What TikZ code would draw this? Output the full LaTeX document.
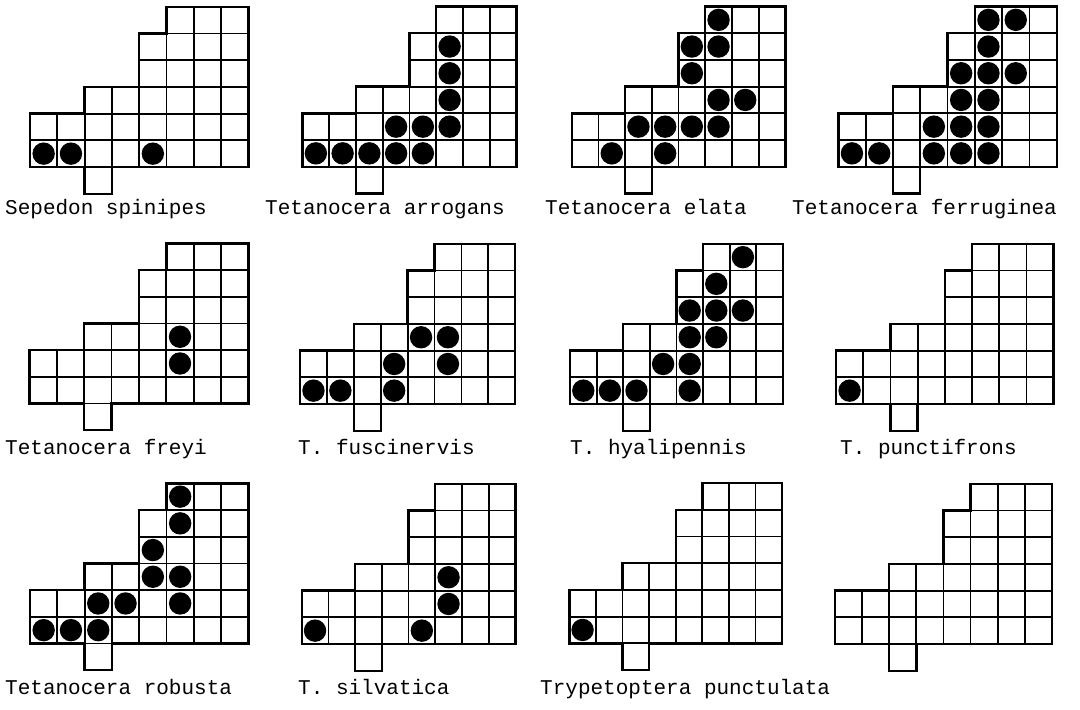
\documentclass[tikz,border=0pt]{standalone}
\usepackage{fontspec}
\setmonofont{Liberation Mono}
\tikzset{
  cellline/.style={draw=black, line width=1.8pt},
  outline/.style={draw=black, line width=2.4pt, line join=miter},
  lab/.style={font=\ttfamily\fontsize{21}{21}\selectfont, anchor=base west, inner sep=0pt},
}
\newcommand\gdots[1]{\foreach \c/\r in {#1} {\fill[black] (\c+0.5,\r+0.5) circle[radius=11.2pt];}}
\newcommand\gridpanel[4]{%
  \begin{scope}[shift={(#1,#2)}, x=#3pt, y=26.7pt]
    \draw[cellline] (0,1) -- (8,1) (2,2) -- (8,2) (4,3) -- (8,3) (4,4) -- (8,4) (5,5) -- (8,5) (2,0) -- (3,0)
      (1,0) -- (1,2) (2,0) -- (2,2) (3,0) -- (3,3) (4,0) -- (4,3) (5,0) -- (5,5) (6,0) -- (6,6) (7,0) -- (7,6);
    \draw[outline] (0,0) -- (2,0) -- (2,-1) -- (3,-1) -- (3,0) -- (8,0) -- (8,6) -- (5,6) -- (5,5) -- (4,5) -- (4,3) -- (2,3) -- (2,2) -- (0,2) -- cycle;
    #4
  \end{scope}}
\begin{document}
\begin{tikzpicture}[x=1pt, y=-1pt]
\useasboundingbox (0,0) rectangle (1080,710);
% row 1
\gridpanel{30}{167}{27.3}{\gdots{0/0,1/0,4/0}}
\gridpanel{302.5}{166.7}{26.75}{\gdots{0/0,1/0,2/0,3/0,4/0,3/1,4/1,5/1,5/2,5/3,5/4}}
\gridpanel{571.7}{166.7}{26.7}{\gdots{5/5,4/4,5/4,4/3,5/2,6/2,2/1,3/1,4/1,5/1,1/0,3/0}}
\gridpanel{838.3}{166.7}{27.3}{\gdots{5/5,6/5,5/4,4/3,5/3,6/3,4/2,5/2,3/1,4/1,5/1,0/0,1/0,3/0,4/0,5/0}}
% row 2
\gridpanel{29.3}{403.5}{27.4}{\gdots{5/2,5/1}}
\gridpanel{300}{404}{26.9}{\gdots{0/0,1/0,3/0,3/1,5/1,4/2,5/2}}
\gridpanel{570}{404}{26.6}{\gdots{6/5,5/4,4/3,5/3,6/3,4/2,5/2,3/1,4/1,0/0,1/0,2/0,4/0}}
\gridpanel{836}{404}{27.2}{\gdots{0/0}}
% row 3
\gridpanel{30}{643.5}{27.3}{\gdots{5/5,5/4,4/3,4/2,5/2,2/1,3/1,5/1,0/0,1/0,2/0}}
\gridpanel{301.7}{644}{26.7}{\gdots{5/2,5/1,0/0,4/0}}
\gridpanel{569.3}{643.3}{26.6}{\gdots{0/0}}
\gridpanel{835}{644}{27.1}{}
% labels
\node[lab] (l1) at (5,214) {Sepedon spinipes};
\node[lab] (l2) at (265,214) {Tetanocera arrogans};
\node[lab] (l3) at (545,214) {Tetanocera elata};
\node[lab] (l4) at (792,214) {Tetanocera ferruginea};
\node[lab] (l5) at (5,454) {Tetanocera freyi};
\node[lab] (l6) at (298,454) {T. fuscinervis};
\node[lab] (l7) at (570,454) {T. hyalipennis};
\node[lab] (l8) at (840,454) {T. punctifrons};
\node[lab] (l9) at (5,694) {Tetanocera robusta};
\node[lab] (l10) at (298,694) {T. silvatica};
\node[lab] (l11) at (540,694) {Trypetoptera punctulata};
\end{tikzpicture}
\end{document}
